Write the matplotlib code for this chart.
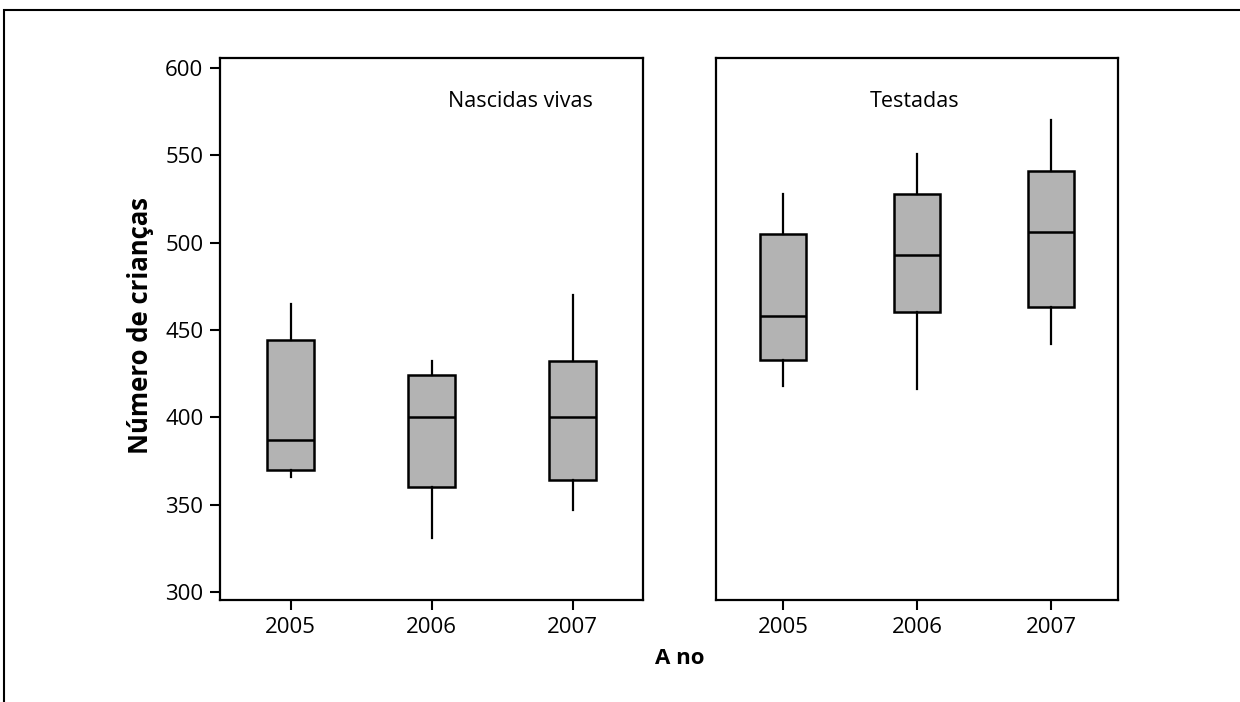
import matplotlib
matplotlib.use('Agg')
import matplotlib.pyplot as plt
from matplotlib.patches import Rectangle

plt.rcParams['font.family'] = ['Open Sans', 'DejaVu Sans']

anos = ['2005', '2006', '2007']

# nascidas vivas
nv_low = [366, 331, 347]
nv_q1 = [370, 360, 364]
nv_med = [387, 400, 400]
nv_q3 = [444, 424, 432]
nv_high = [465, 432, 470]

# testadas
te_low = [418, 416, 442]
te_q1 = [433, 460, 463]
te_med = [458, 493, 506]
te_q3 = [505, 528, 541]
te_high = [528, 551, 570]


def stats(lo, q1, med, q3, hi):
    return [dict(whislo=a, q1=b, med=c, q3=d, whishi=e, fliers=[])
            for a, b, c, d, e in zip(lo, q1, med, q3, hi)]


fig = plt.figure(figsize=(12.4, 7.02), dpi=100)
ax1 = fig.add_axes([220/1240, 1-600/702, 423/1240, 542/702])
ax2 = fig.add_axes([716/1240, 1-600/702, 402/1240, 542/702])

boxprops = dict(facecolor='#b3b3b3', edgecolor='black', linewidth=1.8)
for ax, st, name, tx in [(ax1, stats(nv_low, nv_q1, nv_med, nv_q3, nv_high), 'Nascidas vivas', 0.71),
                         (ax2, stats(te_low, te_q1, te_med, te_q3, te_high), 'Testadas', 0.495)]:
    ax.bxp(st, positions=[1, 2, 3], widths=0.34, patch_artist=True,
           showcaps=False, boxprops=boxprops,
           medianprops=dict(color='black', linewidth=1.8),
           whiskerprops=dict(color='black', linewidth=1.6))
    ax.set_xlim(0.5, 3.5)
    ax.set_ylim(295.4, 605.7)
    ax.set_xticks([1, 2, 3])
    ax.set_xticklabels(anos)
    ax.tick_params(axis='both', labelsize=16, length=7, width=1.5, color='black', pad=5)
    for s in ax.spines.values():
        s.set_linewidth(1.6)
    ax.text(tx, 0.92, name, transform=ax.transAxes, ha='center', va='center', fontsize=15.5)

ax1.set_yticks([300, 350, 400, 450, 500, 550, 600])
ax2.set_yticks([])

fig.text(140/1240, 1-325/702, 'Número de crianças', rotation=90, ha='center', va='center',
         fontsize=18.5, fontweight='bold')
fig.text(680/1240, 1-658/702, 'A no', ha='center', va='center', fontsize=16, fontweight='bold')

fig.patches.append(Rectangle((4/1240, -0.1), 1.2, 1-10/702+0.1, transform=fig.transFigure,
                             fill=False, edgecolor='black', linewidth=1.5))

plt.savefig('out.png', dpi=100)
